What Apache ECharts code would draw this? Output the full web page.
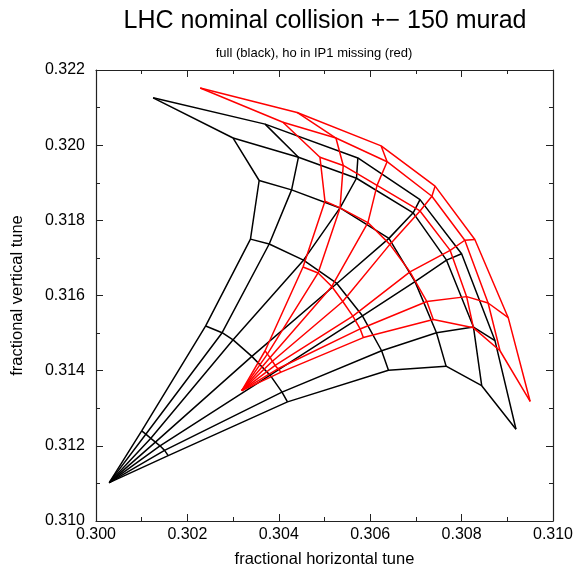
<!DOCTYPE html>
<html>
<head>
<meta charset="utf-8">
<script src="https://cdn.jsdelivr.net/npm/echarts@6/dist/echarts.min.js"></script>
<style>
html,body{margin:0;padding:0;background:#fff;}
#chart{width:585px;height:573px;}
</style>
</head>
<body>
<div id="chart"></div>
<script>
// ---- data (fractional tunes) ----
const xTicks = [0.300, 0.302, 0.304, 0.306, 0.308, 0.310];
const yTicks = [0.310, 0.312, 0.314, 0.316, 0.318, 0.320, 0.322];

// full configuration (black): origin + amplitude rings, each ring lists angle index 0..6
const blackOrigin = [0.30029, 0.31102];
const blackRing1 = [[0.30158,0.31174],[0.30150,0.31188],[0.30140,0.31200],[0.30130,0.31210],[0.30120,0.31220],[0.30109,0.31231],[0.30100,0.31240]];
const blackRing2 = [[0.30419,0.31317],[0.30407,0.31343],[0.30381,0.31388],[0.30341,0.31438],[0.30300,0.31482],[0.30276,0.31501],[0.30240,0.31519]];
const blackRing3 = [[0.30640,0.31401],[0.30625,0.31453],[0.30583,0.31546],[0.30527,0.31632],[0.30454,0.31694],[0.30379,0.31737],[0.30338,0.31750]];
const blackRing4 = [[0.30766,0.31412],[0.30745,0.31501],[0.30698,0.31637],[0.30641,0.31752],[0.30534,0.31833],[0.30428,0.31881],[0.30357,0.31906]];
const blackRing5 = [[0.30844,0.31360],[0.30826,0.31516],[0.30767,0.31694],[0.30694,0.31820],[0.30570,0.31912],[0.30443,0.31968],[0.30300,0.32019]];
const blackRing6 = [[0.30919,0.31244],[0.30873,0.31480],[0.30800,0.31711],[0.30709,0.31855],[0.30573,0.31966],[0.30370,0.32056],[0.30125,0.32126]];

// head-on in IP1 missing (red)
const redOrigin = [0.30319, 0.31347];
const redRing1 = [[0.30405,0.31396],[0.30398,0.31405],[0.30392,0.31414],[0.30386,0.31425],[0.30381,0.31435],[0.30375,0.31444],[0.30370,0.31453]];
const redRing2 = [[0.30585,0.31488],[0.30578,0.31511],[0.30562,0.31545],[0.30540,0.31584],[0.30516,0.31624],[0.30486,0.31660],[0.30453,0.31676]];
const redRing3 = [[0.30738,0.31536],[0.30724,0.31584],[0.30687,0.31663],[0.30643,0.31736],[0.30595,0.31794],[0.30534,0.31833],[0.30501,0.31851]];
const redRing4 = [[0.30826,0.31514],[0.30811,0.31597],[0.30775,0.31720],[0.30709,0.31825],[0.30615,0.31893],[0.30541,0.31946],[0.30490,0.31968]];
const redRing5 = [[0.30884,0.31453],[0.30858,0.31580],[0.30807,0.31747],[0.30735,0.31864],[0.30637,0.31956],[0.30525,0.32019],[0.30409,0.32061]];
const redRing6 = [[0.30950,0.31318],[0.30902,0.31541],[0.30829,0.31749],[0.30742,0.31891],[0.30624,0.31998],[0.30440,0.32087],[0.30228,0.32152]];

// ---- build mesh series ----
function meshSeries(origin, rings, color, name) {
  const out = [];
  const style = { color: color, width: 1.5 };
  rings.forEach(function (ring, i) {
    out.push({ type: 'line', name: name + ' ring ' + (i + 1), data: ring, showSymbol: false,
      symbol: 'none', lineStyle: style, itemStyle: { color: color }, silent: true, animation: false });
  });
  const n = rings[0].length;
  for (let j = 0; j < n; j++) {
    const pts = [origin].concat(rings.map(function (r) { return r[j]; }));
    out.push({ type: 'line', name: name + ' ray ' + j, data: pts, showSymbol: false,
      symbol: 'none', lineStyle: style, itemStyle: { color: color }, silent: true, animation: false });
  }
  return out;
}

const series = []
  .concat(meshSeries(blackOrigin, [blackRing1, blackRing2, blackRing3, blackRing4, blackRing5, blackRing6], '#000000', 'full'))
  .concat(meshSeries(redOrigin, [redRing1, redRing2, redRing3, redRing4, redRing5, redRing6], '#ff0000', 'noIP1'));

const FONT = 'Liberation Sans, Arial, Helvetica, sans-serif';
const axisLineStyle = { show: true, onZero: false, lineStyle: { color: '#222', width: 1.2 } };

function xAxisDef(pos, showLabels) {
  return {
    type: 'value', position: pos, min: xTicks[0], max: xTicks[xTicks.length - 1], interval: 0.002,
    axisLine: axisLineStyle,
    axisTick: { show: true, inside: true, length: 7, lineStyle: { color: '#222', width: 1 } },
    minorTick: { show: true, splitNumber: 2, length: 4, lineStyle: { color: '#222', width: 1 } },
    splitLine: { show: false },
    axisLabel: { show: showLabels, fontFamily: FONT, fontSize: 16, color: '#000', margin: 6,
      formatter: function (v) { return v.toFixed(3); } },
    name: showLabels ? 'fractional horizontal tune' : '', nameLocation: 'middle', nameGap: 30,
    nameTextStyle: { fontFamily: FONT, fontSize: 16.5, color: '#000' }
  };
}
function yAxisDef(pos, showLabels) {
  return {
    type: 'value', position: pos, min: yTicks[0], max: yTicks[yTicks.length - 1], interval: 0.002,
    axisLine: axisLineStyle,
    axisTick: { show: true, inside: true, length: 7, lineStyle: { color: '#222', width: 1 } },
    minorTick: { show: true, splitNumber: 2, length: 4, lineStyle: { color: '#222', width: 1 } },
    splitLine: { show: false },
    axisLabel: { show: showLabels, fontFamily: FONT, fontSize: 16, color: '#000', margin: 11,
      formatter: function (v) { return v.toFixed(3); } },
    name: showLabels ? 'fractional vertical tune' : '', nameLocation: 'middle', nameGap: 70,
    nameRotate: 90,
    nameTextStyle: { fontFamily: FONT, fontSize: 16.5, color: '#000' }
  };
}

const chart = echarts.init(document.getElementById('chart'), null, { renderer: 'canvas' });
chart.setOption({
  backgroundColor: '#ffffff',
  animation: false,
  grid: { left: 96, right: 32, top: 70, bottom: 45, containLabel: false },
  xAxis: [xAxisDef('bottom', true), xAxisDef('top', false)],
  yAxis: [yAxisDef('left', true), yAxisDef('right', false)],
  graphic: [
    { type: 'text', x: 325, y: 21, style: { text: 'LHC nominal collision +\u2212 150 murad',
      font: '25px ' + FONT, fill: '#000', textAlign: 'center', textVerticalAlign: 'middle' } },
    { type: 'text', x: 314, y: 53, style: { text: 'full (black), ho in IP1 missing (red)',
      font: '13px ' + FONT, fill: '#000', textAlign: 'center', textVerticalAlign: 'middle' } }
  ],
  series: series
});
</script>
</body>
</html>
